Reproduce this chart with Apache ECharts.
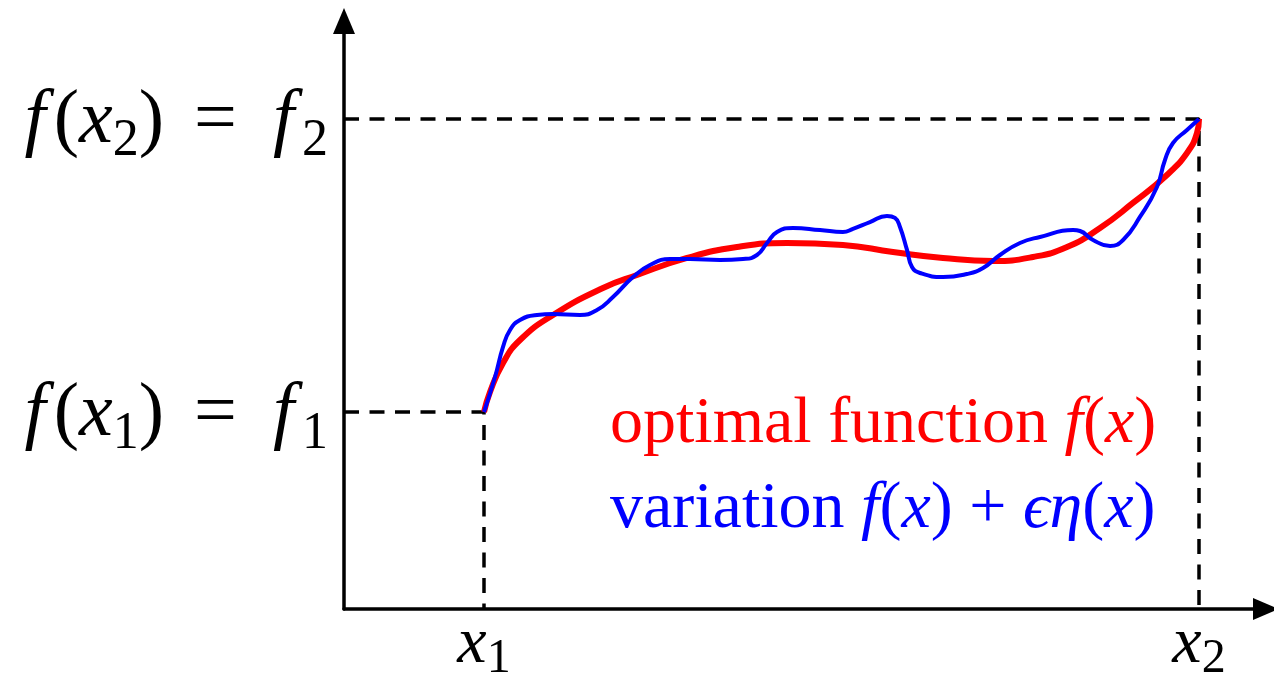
<!DOCTYPE html>
<html>
<head>
<meta charset="utf-8">
<script src="https://cdn.jsdelivr.net/npm/echarts@6/dist/echarts.min.js"></script>
<style>
  html, body { margin: 0; padding: 0; background: #fff; }
  #chart { width: 1274px; height: 680px; }
</style>
</head>
<body>
<div id="chart"></div>
<script>
// ---------- data ----------
const X_MIN = 0.021, X_MAX = 6.4685;
const Y_MIN = -0.017, Y_MAX = 6.003;
const x1 = 1, x2 = 6;
const f1 = 2, f2 = 5;

const xTickValues = [x1, x2];
const xTickLabels = ['{it|x}{sub|1}', '{it|x}{sub|2}'];
const yTickValues = [f1, f2];
const yTickLabels = [
  '{fi|f}{rm|(}{it|x}{sub|1}{rm|)}{eq|=}{fi|f}{sub|1}',
  '{fi|f}{rm|(}{it|x}{sub|2}{rm|)}{eq|=}{fi|f}{sub|2}'
];

// optimal function f(x)
const optimalX = [1.000, 1.042, 1.133, 1.252, 1.483, 1.832, 2.070, 2.420, 2.769, 3.119, 3.510, 3.860, 4.210, 4.559, 4.839, 5.077, 5.308, 5.538, 5.776, 5.916, 5.986, 6.000];
const optimalY = [2.000, 2.205, 2.502, 2.737, 2.993, 3.270, 3.403, 3.577, 3.689, 3.730, 3.710, 3.638, 3.577, 3.546, 3.587, 3.689, 3.884, 4.140, 4.427, 4.652, 4.857, 5.000];

// variation f(x) + eps*eta(x)
const variationX = [1.000, 1.077, 1.133, 1.182, 1.252, 1.371, 1.483, 1.671, 1.790, 1.902, 2.042, 2.161, 2.301, 2.441, 2.650, 2.811, 2.909, 2.979, 3.049, 3.161, 3.350, 3.510, 3.580, 3.699, 3.818, 3.874, 3.909, 3.958, 3.993, 4.049, 4.210, 4.378, 4.490, 4.608, 4.748, 4.888, 5.119, 5.168, 5.259, 5.378, 5.469, 5.587, 5.706, 5.762, 5.818, 5.916, 6.000];
const variationY = [2.000, 2.358, 2.666, 2.840, 2.942, 2.993, 3.003, 2.993, 3.044, 3.177, 3.382, 3.505, 3.566, 3.566, 3.556, 3.566, 3.607, 3.730, 3.843, 3.884, 3.863, 3.843, 3.874, 3.945, 4.007, 3.987, 3.894, 3.659, 3.485, 3.423, 3.382, 3.413, 3.474, 3.607, 3.730, 3.792, 3.863, 3.853, 3.761, 3.700, 3.761, 3.997, 4.304, 4.580, 4.754, 4.887, 5.000];

const legendLines = [
  { text: '{rm|optimal function }{it|f}{rm|(}{it|x}{rm|)}', color: '#ff0000' },
  { text: '{rm|variation }{it|f}{rm|(}{it|x}{rm|) + }{it|ϵη}{rm|(}{it|x}{rm|)}', color: '#0000ff' }
];

// ---------- styles ----------
const SERIF = "'Liberation Serif', 'DejaVu Serif', serif";
function richStyles(color, size, lh, subSize, subLh, fPad, eqPad) {
  const base = { fontFamily: SERIF, fontWeight: 'normal', fontSize: size, lineHeight: lh, color: color };
  return {
    it:  Object.assign({}, base, { fontStyle: 'italic' }),
    fi:  Object.assign({}, base, { fontStyle: 'italic', padding: fPad }),
    rm:  Object.assign({}, base),
    eq:  Object.assign({}, base, { padding: eqPad }),
    sub: { fontFamily: SERIF, fontWeight: 'normal', fontSize: subSize, lineHeight: subLh, verticalAlign: 'bottom', color: color }
  };
}

const zip = (xs, ys) => xs.map((x, i) => [x, ys[i]]);

const chart = echarts.init(document.getElementById('chart'), null, { renderer: 'canvas' });
chart.setOption({
  animation: false,
  backgroundColor: '#ffffff',
  grid: { left: 344, right: 8, top: 21, bottom: 71, containLabel: false, outerBoundsMode: 'none' },
  title: legendLines.map((l, i) => ({
    text: l.text,
    left: 610,
    top: 385 + i * 85,
    padding: 0,
    textStyle: {
      fontFamily: SERIF, fontWeight: 'normal', fontSize: 66, color: l.color,
      rich: richStyles(l.color, 66, 80, 46, 50, [0, 0, 0, 0], [0, 0, 0, 0])
    }
  })),
  xAxis: {
    type: 'value', min: X_MIN, max: X_MAX,
    axisLine: { onZero: false, lineStyle: { color: '#000', width: 3.5 }, symbol: ['none', 'triangle'], symbolSize: [22, 26] },
    axisTick: { show: false },
    splitLine: { show: false },
    axisLabel: {
      customValues: xTickValues,
      margin: -2,
      fontFamily: SERIF,
      formatter: v => xTickLabels[xTickValues.indexOf(v)] || '',
      rich: richStyles('#000', 66, 76, 48, 50, [0, 0, 0, 0], [0, 0, 0, 0])
    }
  },
  yAxis: {
    type: 'value', min: Y_MIN, max: Y_MAX,
    axisLine: { onZero: false, lineStyle: { color: '#000', width: 3.5 }, symbol: ['none', 'triangle'], symbolSize: [22, 26] },
    axisTick: { show: false },
    splitLine: { show: false },
    axisLabel: {
      customValues: yTickValues,
      margin: 16,
      padding: [6, 0, 0, 0],
      fontFamily: SERIF,
      formatter: v => yTickLabels[yTickValues.indexOf(v)] || '',
      rich: richStyles('#000', 76, 90, 52, 56, [0, 8, 0, 6], [0, 30, 0, 30])
    }
  },
  series: [
    {
      type: 'line', name: 'guide1', silent: true, symbol: 'none', z: 1,
      data: [[X_MIN, f1], [x1, f1], [x1, Y_MIN]],
      lineStyle: { color: '#000', width: 3.5, type: [15, 10.5] }
    },
    {
      type: 'line', name: 'guide2', silent: true, symbol: 'none', z: 1,
      data: [[X_MIN, f2], [x2, f2], [x2, Y_MIN]],
      lineStyle: { color: '#000', width: 3.5, type: [15, 10.5] }
    },
    {
      type: 'line', name: 'optimal', symbol: 'none', z: 2,
      smooth: 0.5,
      data: zip(optimalX, optimalY),
      lineStyle: { color: '#ff0000', width: 6 }
    },
    {
      type: 'line', name: 'variation', symbol: 'none', z: 3,
      smooth: 0.5,
      data: zip(variationX, variationY),
      lineStyle: { color: '#0000ff', width: 4 }
    }
  ]
});
</script>
</body>
</html>
